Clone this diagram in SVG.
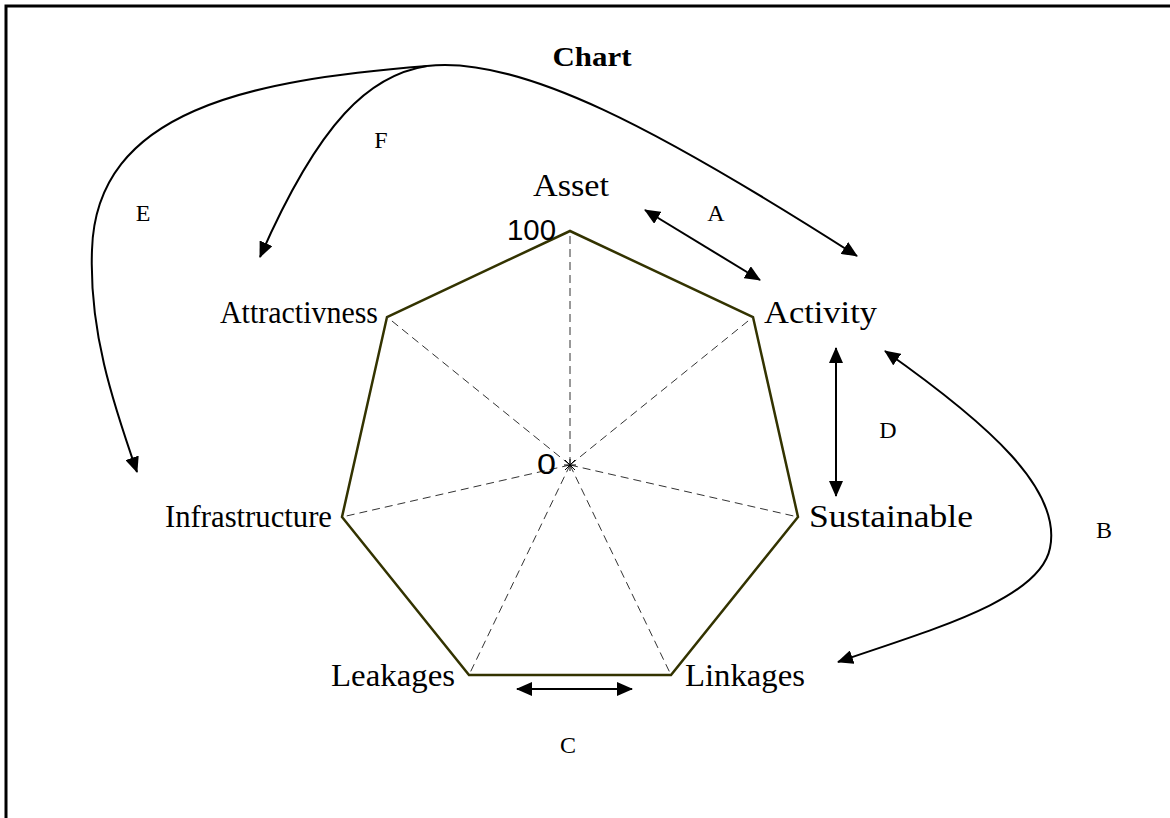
<svg xmlns="http://www.w3.org/2000/svg" width="1170" height="818" viewBox="0 0 1170 818">
<style>
.lbl{font-family:"Liberation Serif","DejaVu Serif",serif;font-size:31px;fill:#000}
.let{font-family:"Liberation Serif","DejaVu Serif",serif;font-size:24px;fill:#000;text-anchor:middle}
.num{font-family:"Liberation Sans","DejaVu Sans",sans-serif;font-size:29px;fill:#000}
.conn{fill:none;stroke:#000;stroke-width:2}
.spoke{stroke:#333;stroke-width:1;stroke-dasharray:8 5;fill:none}
</style>
<defs>
<marker id="ah" markerUnits="userSpaceOnUse" markerWidth="16" markerHeight="14" refX="15" refY="7" orient="auto-start-reverse" viewBox="0 0 16 14">
<path d="M0,0 L16,7 L0,14 Z" fill="#000"/>
</marker>
</defs>
<rect width="1170" height="818" fill="#fff"/>
<path d="M6,818 V6 H1170" fill="none" stroke="#000" stroke-width="3"/>
<text x="592" y="66" class="lbl" style="font-weight:bold;font-size:28px" text-anchor="middle" textLength="79" lengthAdjust="spacingAndGlyphs">Chart</text>
<g id="radar">
<polygon points="570,231 753,317 798,517 671,675 469,675 342,517 387,317" fill="none" stroke="#333300" stroke-width="2.5"/>
<path class="spoke" d="M570,465 L570,231 M570,465 L753,317 M570,465 L798,517 M570,465 L671,675 M570,465 L469,675 M570,465 L342,517 M570,465 L387,317"/>
<path d="M564,465 H576 M570,459 V471 M565,460 L575,470 M575,460 L565,470" stroke="#000" stroke-width="1"/>
<text x="507" y="240" class="num" textLength="49" lengthAdjust="spacingAndGlyphs">100</text>
<text x="537" y="474" class="num" textLength="19" lengthAdjust="spacingAndGlyphs">0</text>
</g>
<g id="asset"><text x="533" y="196" class="lbl" textLength="76" lengthAdjust="spacingAndGlyphs">Asset</text></g>
<g id="activity"><text x="764" y="323" class="lbl" textLength="113" lengthAdjust="spacingAndGlyphs">Activity</text></g>
<g id="sustainable"><text x="809" y="527" class="lbl" textLength="164" lengthAdjust="spacingAndGlyphs">Sustainable</text></g>
<g id="linkages"><text x="685" y="686" class="lbl" textLength="120" lengthAdjust="spacingAndGlyphs">Linkages</text></g>
<g id="leakages"><text x="331" y="686" class="lbl" textLength="124" lengthAdjust="spacingAndGlyphs">Leakages</text></g>
<g id="infrastructure"><text x="165" y="527" class="lbl" textLength="167" lengthAdjust="spacingAndGlyphs">Infrastructure</text></g>
<g id="attractivness"><text x="220" y="323" class="lbl" textLength="158" lengthAdjust="spacingAndGlyphs">Attractivness</text></g>
<g id="connectors">
<path class="conn" d="M645,210 L760,280" marker-start="url(#ah)" marker-end="url(#ah)"/>
<path class="conn" d="M836,348 L836,496" marker-start="url(#ah)" marker-end="url(#ah)"/>
<path class="conn" d="M517,689 L632,689" marker-start="url(#ah)" marker-end="url(#ah)"/>
<path class="conn" d="M885,351 C990,425 1062,490 1050,548 C1040,600 930,630 838,662" marker-start="url(#ah)" marker-end="url(#ah)"/>
<path class="conn" d="M427,66 C520,55 660,130 857,256" marker-end="url(#ah)"/>
<path class="conn" d="M427,66 C250,80 96,110 92,250 C89,330 112,400 137,472" marker-end="url(#ah)"/>
<path class="conn" d="M427,66 C370,75 320,120 260,257" marker-end="url(#ah)"/>
<text x="716" y="221" class="let">A</text>
<text x="1104" y="538" class="let">B</text>
<text x="568" y="753" class="let">C</text>
<text x="888" y="438" class="let">D</text>
<text x="143" y="221" class="let">E</text>
<text x="381" y="148" class="let">F</text>
</g>
</svg>
